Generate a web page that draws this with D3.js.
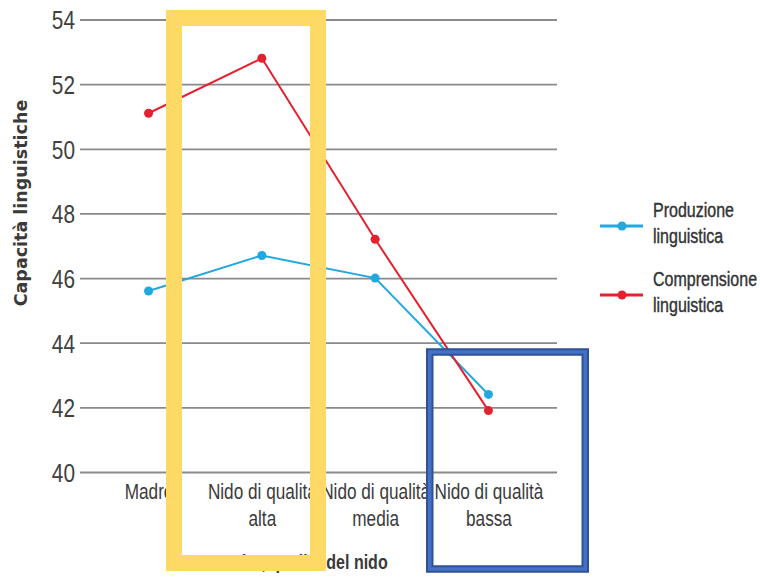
<!DOCTYPE html>
<html>
<head>
<meta charset="utf-8">
<script src="https://cdn.jsdelivr.net/npm/d3@7"></script>
<style>
  html, body { margin: 0; padding: 0; background: #fff; }
  svg { display: block; }
</style>
</head>
<body>
<svg id="chart" width="760" height="583"></svg>
<script>
// Categories on the x axis ("\n" marks a line break in the label)
const categories = ["Madre", "Nido di qualità\nalta", "Nido di qualità\nmedia", "Nido di qualità\nbassa"];
// Series values
const produzione = [45.6, 46.7, 46.0, 42.4];
const comprensione = [51.1, 52.8, 47.2, 41.9];
// Y axis ticks
const yTicks = [40, 42, 44, 46, 48, 50, 52, 54];

const series = [
  { name: ["Produzione", "linguistica"], values: produzione, color: "#22A8E0" },
  { name: ["Comprensione", "linguistica"], values: comprensione, color: "#E5212F" }
];

// Condensed look: regular sans squeezed horizontally
const sans = "'Liberation Sans', Arial, sans-serif";
const SQ = 0.8;
const svg = d3.select("#chart");

// Place a squeezed text at (px, py)
function squeezedText(parent, px, py) {
  return parent.append("text")
    .attr("transform", `translate(${px},${py}) scale(${SQ},1)`)
    .attr("font-family", sans);
}

const plot = { left: 80, right: 557, top: 19.5, bottom: 472 };

const x = d3.scalePoint()
  .domain(categories)
  .range([plot.left, plot.right])
  .padding(0.605);

const y = d3.scaleLinear()
  .domain([40, 54])
  .range([plot.bottom, plot.top]);

// Horizontal gridlines with tick labels
const yAxis = svg.append("g")
  .attr("transform", `translate(${plot.left},0)`)
  .call(d3.axisLeft(y).tickValues(yTicks).tickSize(-(plot.right - plot.left)).tickPadding(5).tickFormat(d3.format("d")));
yAxis.select(".domain").remove();
yAxis.selectAll(".tick line").attr("stroke", "#8a8a8a").attr("stroke-width", 1.8);
yAxis.selectAll(".tick text")
  .attr("font-family", sans)
  .attr("font-size", 26)
  .attr("fill", "#404040")
  .attr("x", -5 / SQ)
  .attr("dy", "0.36em")
  .attr("transform", `scale(${SQ},1)`);

// Category labels
const xAxis = svg.append("g")
  .attr("transform", `translate(0,${plot.bottom})`)
  .call(d3.axisBottom(x).tickSize(0).tickPadding(0));
xAxis.select(".domain").remove();
xAxis.selectAll(".tick text").each(function(d) {
  const t = d3.select(this);
  t.text(null)
    .attr("y", 0).attr("dy", null)
    .attr("transform", `scale(${SQ},1)`)
    .attr("font-family", sans)
    .attr("font-size", 21.5)
    .attr("fill", "#3b3b3b");
  d.split("\n").forEach((line, i) => {
    t.append("tspan").attr("x", 0).attr("y", 27 + i * 27).text(line);
  });
});

// Axis titles
svg.append("text")
  .attr("transform", `translate(27,203) rotate(-90)`)
  .attr("text-anchor", "middle")
  .attr("font-family", "'DejaVu Sans', sans-serif")
  .attr("font-weight", "bold")
  .attr("font-size", 17.5)
  .attr("fill", "#3a3a3a")
  .text("Capacità linguistiche");

squeezedText(svg, 301, 569)
  .attr("text-anchor", "middle")
  .attr("font-weight", "bold")
  .attr("font-size", 20)
  .attr("fill", "#3a3a3a")
  .text("Madre, qualità del nido");

// Lines and points
const line = d3.line()
  .x((v, i) => x(categories[i]))
  .y(v => y(v));

series.forEach(s => {
  svg.append("path")
    .datum(s.values)
    .attr("d", line)
    .attr("fill", "none")
    .attr("stroke", s.color)
    .attr("stroke-width", 2);
  svg.selectAll(null)
    .data(s.values)
    .join("circle")
    .attr("cx", (v, i) => x(categories[i]))
    .attr("cy", v => y(v))
    .attr("r", 4.5)
    .attr("fill", s.color);
});

// Legend
const legend = svg.append("g");
const legendY = [226, 295];
series.forEach((s, i) => {
  const g = legend.append("g").attr("transform", `translate(600,${legendY[i]})`);
  g.append("line").attr("x1", 0).attr("x2", 43).attr("y1", 0).attr("y2", 0)
    .attr("stroke", s.color).attr("stroke-width", 3);
  g.append("circle").attr("cx", 22).attr("cy", 0).attr("r", 4.5).attr("fill", s.color);
  s.name.forEach((ln, j) => {
    squeezedText(g, 53, -9 + j * 26)
      .attr("font-size", 20)
      .attr("fill", "#333")
      .attr("stroke", "#333")
      .attr("stroke-width", 0.4)
      .text(ln);
  });
});

// Highlight frames drawn over the chart
svg.append("rect")
  .attr("x", 174).attr("y", 18)
  .attr("width", 144).attr("height", 545)
  .attr("fill", "none")
  .attr("stroke", "#FFD966")
  .attr("stroke-width", 16);

svg.append("rect")
  .attr("x", 429.75).attr("y", 352)
  .attr("width", 155.5).attr("height", 217)
  .attr("fill", "none")
  .attr("stroke", "#2E529A")
  .attr("stroke-width", 7.5);
svg.append("rect")
  .attr("x", 429.75).attr("y", 352)
  .attr("width", 155.5).attr("height", 217)
  .attr("fill", "none")
  .attr("stroke", "#4571C4")
  .attr("stroke-width", 3.5);
</script>
</body>
</html>
